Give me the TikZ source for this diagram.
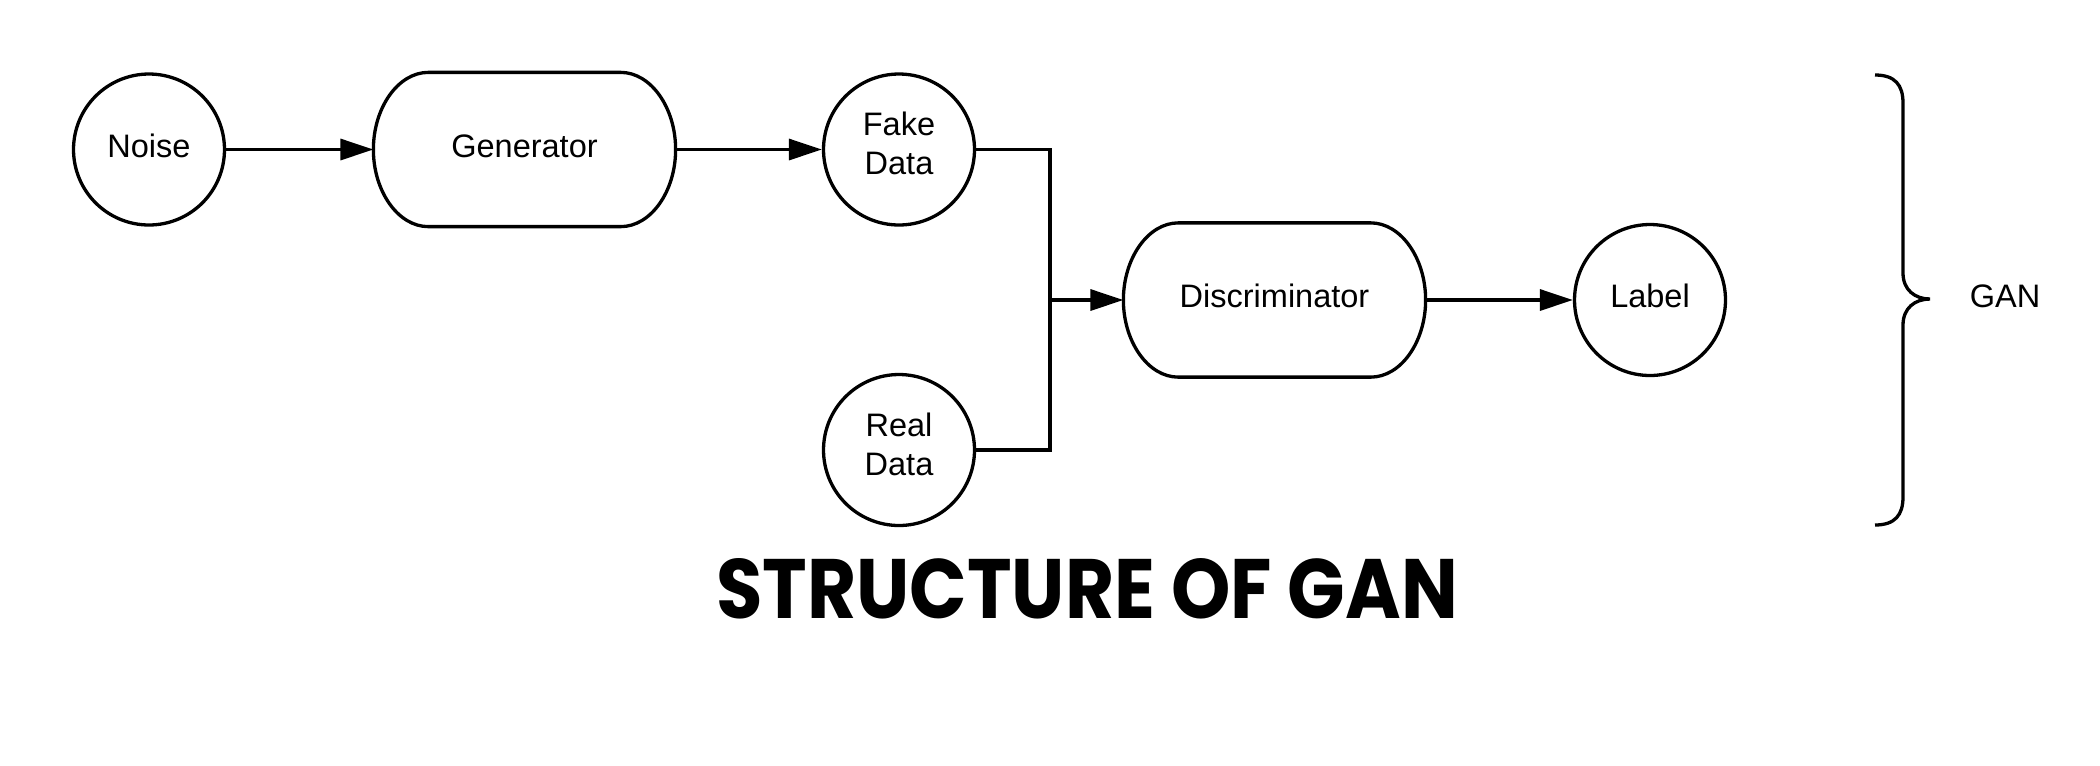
\documentclass[tikz,border=0pt]{standalone}
\usepackage{fontspec}
\setmainfont{Liberation Sans}
\newfontfamily\titlefont{Poppins}
\usetikzlibrary{arrows.meta}
\newcommand\procdraw[1]{%
  \draw[outline] ([xshift=1.1cm]#1.north west) -- ([xshift=-1.1cm]#1.north east)
    .. controls ([xshift=-0.4925cm]#1.north east) and ([yshift=0.834cm]#1.east) .. (#1.east)
    .. controls ([yshift=-0.834cm]#1.east) and ([xshift=-0.4925cm]#1.south east) .. ([xshift=-1.1cm]#1.south east)
    -- ([xshift=1.1cm]#1.south west)
    .. controls ([xshift=0.4925cm]#1.south west) and ([yshift=-0.834cm]#1.west) .. (#1.west)
    .. controls ([yshift=0.834cm]#1.west) and ([xshift=0.4925cm]#1.north west) .. cycle;}
\begin{document}
\begin{tikzpicture}[x=0.02cm,y=-0.02cm, line width=0.066cm,
  txt/.style={font=\fontsize{18.5}{22.2}\selectfont},
  circ/.style={txt, circle, draw, minimum size=3.02cm, inner sep=0pt, align=center,
    execute at begin node=\strut, execute at end node=\strut},
  proc/.style={txt, rectangle, minimum width=5.98cm, minimum height=3.02cm, inner sep=0pt,
    execute at begin node=\strut, execute at end node=\strut},
  arr/.style={-{Triangle[length=0.66cm,width=0.42cm]}},
  outline/.style={line join=round}]
\useasboundingbox (0,0) rectangle (2100,765);

\node[circ] (noise) at (149,149.5) {Noise};
\node[proc] (gen) at (524.5,149.5) {Generator};
\procdraw{gen}
\node[circ] (fake) at (899,149.5) {Fake\\Data};
\node[circ] (real) at (899,450) {Real\\Data};
\node[proc] (disc) at (1274.5,300) {Discriminator};
\procdraw{disc}
\node[circ] (label) at (1650,300) {Label};
\coordinate (j) at (1050,300);

\draw[arr] (noise.east) -- (gen.west);
\draw[arr] (gen.east) -- (fake.west);
\draw (fake.east) -| (j);
\draw (real.east) -| (j);
\draw[arr] (j) -- (disc.west);
\draw[arr] (disc.east) -- (label.west);

% brace
\draw (1875,75) .. controls (1895,75) and (1903,85) .. (1903,103)
  -- (1903,273) .. controls (1903,290) and (1915,299) .. (1930,299)
  .. controls (1915,299) and (1903,308) .. (1903,325)
  -- (1903,497) .. controls (1903,515) and (1895,525) .. (1875,525);
\node[txt] (gan) at (2005,296) {GAN};

\node[inner sep=0pt] (title) at (1087,589)
  {\resizebox{14.84cm}{1.2cm}{\titlefont\bfseries STRUCTURE OF GAN}};
\end{tikzpicture}
\end{document}
